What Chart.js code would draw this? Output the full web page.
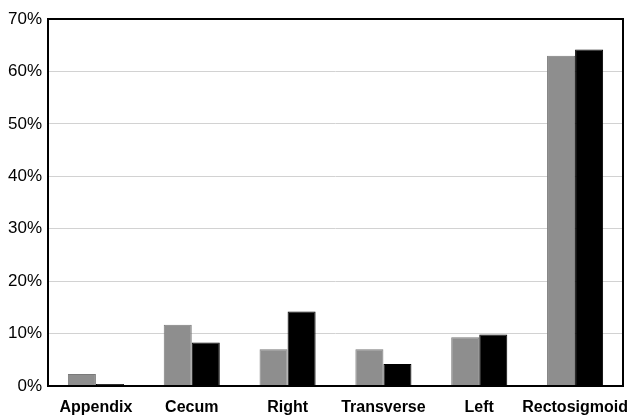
<!DOCTYPE html>
<html>
<head>
<meta charset="utf-8">
<script src="https://cdn.jsdelivr.net/npm/chart.js@4.4.0/dist/chart.umd.min.js"></script>
<style>
  html, body { margin: 0; padding: 0; background: #fff; }
  #wrap { width: 633px; height: 416px; }
</style>
</head>
<body>
<div id="wrap"><canvas id="c" width="633" height="416"></canvas></div>
<script>
// categories along the x axis
var sites = ['Appendix', 'Cecum', 'Right', 'Transverse', 'Left', 'Rectosigmoid'];
// series values (percent)
var grayVals  = [2.3, 11.7, 7.0, 7.0, 9.3, 63.0];
var blackVals = [0.4, 8.3, 14.2, 4.2, 9.8, 64.2];
// y ticks
var yMax = 70;
var yStep = 10;

// draws the black frame round the plot
var frame = {
  id: 'frame',
  afterDraw: function(chart) {
    var a = chart.chartArea, ctx = chart.ctx;
    ctx.save();
    ctx.strokeStyle = '#000';
    ctx.lineWidth = 2;
    ctx.strokeRect(a.left, a.top, a.right - a.left, a.bottom - a.top);
    ctx.restore();
  }
};

new Chart(document.getElementById('c'), {
  type: 'bar',
  data: {
    labels: sites,
    datasets: [
      { data: grayVals, backgroundColor: '#8e8e8e', borderColor: '#7a7a7a', borderWidth: 1 },
      { data: blackVals, backgroundColor: '#000', borderColor: '#000', borderWidth: 1 }
    ]
  },
  options: {
    responsive: false,
    animation: false,
    layout: { padding: { top: 19, right: 10, left: 0, bottom: 0 } },
    plugins: { legend: { display: false }, tooltip: { enabled: false } },
    datasets: { bar: { categoryPercentage: 0.585, barPercentage: 1.0 } },
    scales: {
      x: {
        grid: { display: false, drawTicks: false },
        border: { display: false },
        ticks: {
          color: '#000', padding: 12, maxRotation: 0, autoSkip: false,
          font: { family: 'Liberation Sans, Arial, sans-serif', size: 16, weight: 'bold' }
        },
        afterFit: function(s) { s.height = 30; s.paddingLeft = 0; s.paddingRight = 0; }
      },
      y: {
        min: 0, max: yMax,
        grid: { color: '#d2d2d2', lineWidth: 1, drawTicks: false },
        border: { display: false },
        ticks: {
          stepSize: yStep, color: '#000', padding: 6,
          font: { family: 'Liberation Sans, Arial, sans-serif', size: 17 },
          callback: function(v) { return v + '%'; }
        },
        afterFit: function(s) { s.width = 48; s.paddingTop = 0; s.paddingBottom = 0; }
      }
    }
  },
  plugins: [frame]
});
</script>
</body>
</html>
